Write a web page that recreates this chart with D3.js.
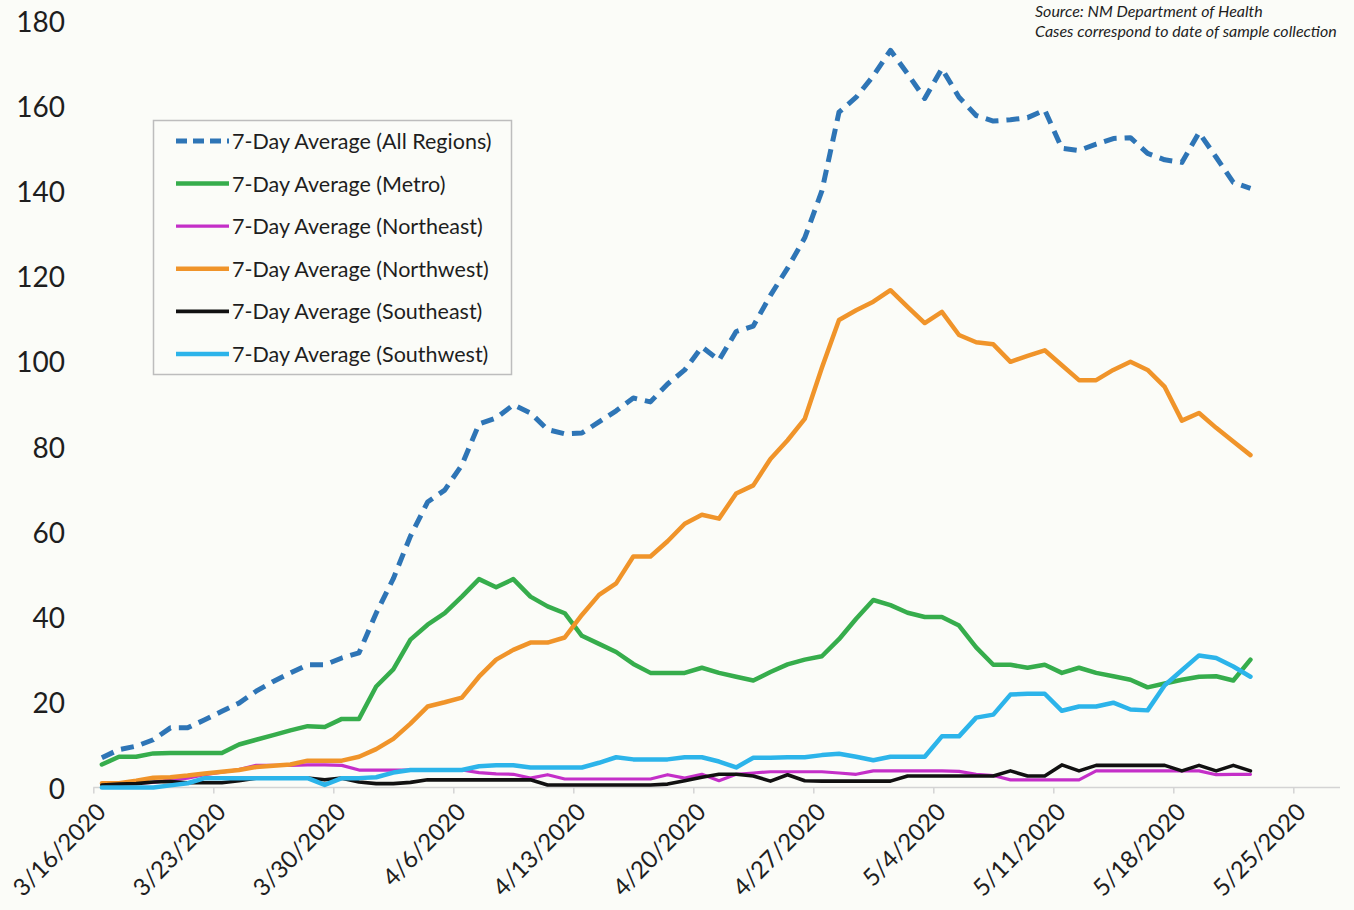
<!DOCTYPE html>
<html>
<head>
<meta charset="utf-8">
<script src="https://cdn.jsdelivr.net/npm/d3@7"></script>
<style>
  html, body { margin: 0; padding: 0; background: #fbfcf8; }
  svg { display: block; }
  text { font-family: Lato, "Open Sans", sans-serif; fill: #1e1e1e; }
</style>
</head>
<body>
<svg id="chart" width="1354" height="910"></svg>
<script>
// ---------- data ----------
const dates = [
  "2020-03-16","2020-03-17","2020-03-18","2020-03-19","2020-03-20","2020-03-21","2020-03-22",
  "2020-03-23","2020-03-24","2020-03-25","2020-03-26","2020-03-27","2020-03-28","2020-03-29",
  "2020-03-30","2020-03-31","2020-04-01","2020-04-02","2020-04-03","2020-04-04","2020-04-05",
  "2020-04-06","2020-04-07","2020-04-08","2020-04-09","2020-04-10","2020-04-11","2020-04-12",
  "2020-04-13","2020-04-14","2020-04-15","2020-04-16","2020-04-17","2020-04-18","2020-04-19",
  "2020-04-20","2020-04-21","2020-04-22","2020-04-23","2020-04-24","2020-04-25","2020-04-26",
  "2020-04-27","2020-04-28","2020-04-29","2020-04-30","2020-05-01","2020-05-02","2020-05-03",
  "2020-05-04","2020-05-05","2020-05-06","2020-05-07","2020-05-08","2020-05-09","2020-05-10",
  "2020-05-11","2020-05-12","2020-05-13","2020-05-14","2020-05-15","2020-05-16","2020-05-17",
  "2020-05-18","2020-05-19","2020-05-20","2020-05-21","2020-05-22"
];
const allRegions = [7,8.9,9.7,11.2,14,14,15.9,17.9,19.8,22.6,24.9,26.9,28.8,28.8,30.4,31.6,40.9,49,59,67,69.8,75.7,85.3,86.7,89.8,87.9,84,83,83.2,85.8,88.4,91.4,90.5,94.7,98,103.4,100.3,107,108.3,115.5,121.9,129,140,158.5,162,167,173,167.5,161.7,168.7,162,157.7,156.4,156.7,157.2,159,150,149.5,151,152.3,152.5,148.8,147.3,146.7,153.7,147.9,142,140.6];
const metro = [5.4,7.2,7.2,8,8.1,8.1,8.1,8.1,10.1,11.2,12.3,13.4,14.4,14.2,16.1,16.1,23.7,27.7,34.7,38.2,40.9,44.8,48.9,47,48.9,44.8,42.5,40.9,35.6,33.7,31.8,29,26.9,26.9,26.9,28.1,26.9,26,25.1,27.1,28.9,30,30.8,34.8,39.6,44,42.8,41,40,40,38,32.9,28.8,28.8,28.1,28.8,26.9,28.1,26.9,26.1,25.3,23.5,24.4,25.3,26,26.1,25.1,30];
const northeast = [1,1,1,1.2,1.8,2.2,3,3.6,4.2,5.2,5.2,5.2,5.3,5.3,5.2,4.1,4.1,4.1,4.1,4.1,4.1,4.1,3.5,3.2,3.1,2.2,3,2,2,2,2,2,2,3,2.2,3.1,1.6,3.1,3.4,3.7,3.7,3.7,3.7,3.4,3.1,3.9,3.9,3.9,3.9,3.9,3.8,3.1,2.8,1.8,1.8,1.8,1.8,1.8,3.9,3.9,3.9,3.9,3.9,3.9,3.9,3,3.1,3.1];
const northwest = [1,1,1.6,2.3,2.4,2.8,3.3,3.7,4.1,4.8,5.1,5.4,6.3,6.3,6.3,7.2,9,11.4,15,19,20,21.1,26,30,32.3,34,34,35.2,40.5,45.2,47.9,54.2,54.2,57.8,61.9,64,63.1,69,70.9,77.1,81.5,86.5,98.5,109.7,112,114,116.7,112.8,109,111.6,106.2,104.5,104,99.9,101.3,102.6,99.1,95.6,95.6,98,99.9,98,94,86.1,87.9,84.4,81.2,78];
const southeast = [0.6,0.8,0.9,1.3,1.4,1.1,1.1,1.1,1.6,2.2,2.2,2.2,2.2,1.8,2.2,1.3,0.9,0.9,1.2,1.8,1.8,1.8,1.8,1.8,1.8,1.8,0.6,0.6,0.6,0.6,0.6,0.6,0.6,0.8,1.6,2.4,3.1,3.1,2.7,1.5,3,1.6,1.5,1.5,1.5,1.5,1.5,2.7,2.7,2.7,2.7,2.7,2.7,3.9,2.7,2.7,5.3,3.9,5.2,5.2,5.2,5.2,5.2,3.9,5.2,3.9,5.2,3.9];
const southwest = [0,0,0,0,0.5,1,2.2,2.2,2.2,2.2,2.2,2.2,2.2,0.6,2.2,2.2,2.4,3.5,4.1,4.1,4.1,4.1,5,5.2,5.2,4.7,4.7,4.7,4.7,5.8,7.1,6.6,6.6,6.6,7.1,7.1,6.1,4.7,7,7,7.1,7.1,7.6,7.9,7.2,6.4,7.2,7.2,7.2,12,12,16.4,17.1,21.8,22,22,18,19,19,19.9,18.3,18.1,24,27.5,31,30.4,28.4,26];

const seriesNames = [
  "7-Day Average (All Regions)",
  "7-Day Average (Metro)",
  "7-Day Average (Northeast)",
  "7-Day Average (Northwest)",
  "7-Day Average (Southeast)",
  "7-Day Average (Southwest)"
];
const yTicks = [0,20,40,60,80,100,120,140,160,180];
const xTickLabels = ["3/16/2020","3/23/2020","3/30/2020","4/6/2020","4/13/2020","4/20/2020","4/27/2020","5/4/2020","5/11/2020","5/18/2020","5/25/2020"];
const sourceLines = ["Source: NM Department of Health","Cases correspond to date of sample collection"];

// ---------- styles ----------
const styles = [
  {color:"#2e75b6", width:5, dash:"13,8"},
  {color:"#36ad4c", width:4.5, dash:null},
  {color:"#c42fc8", width:3.2, dash:null},
  {color:"#f0942a", width:4.5, dash:null},
  {color:"#111111", width:3.6, dash:null},
  {color:"#2cb4ea", width:4.5, dash:null}
];
const seriesValues = [allRegions, metro, northeast, northwest, southeast, southwest];

// ---------- chart ----------
const svg = d3.select("#chart");
svg.append("rect").attr("width",1354).attr("height",910).attr("fill","#fbfcf8");

const parse = d3.utcParse("%Y-%m-%d");
const parseTick = d3.utcParse("%m/%d/%Y");
const dayDates = dates.map(parse);
const tickDates = xTickLabels.map(parseTick);

const x = d3.scaleUtc()
  .domain([parse("2020-03-16"), parse("2020-05-25")])
  .range([93.3, 1293.3]);
const y = d3.scaleLinear().domain([0,180]).range([787.5, 20.5]);

const halfDay = 12*3600*1000;
const px = d => x(new Date(d.getTime() + halfDay));

// axis baseline
svg.append("line")
  .attr("x1", x.range()[0]).attr("x2", 1340)
  .attr("y1", y(0)).attr("y2", y(0))
  .attr("stroke", "#d4d4d4").attr("stroke-width", 1.5);

// x axis ticks
const xAxis = d3.axisBottom(x).tickValues(tickDates).tickSize(6).tickFormat("");
const gx = svg.append("g").attr("transform", `translate(0,${y(0)})`).call(xAxis);
gx.select(".domain").remove();
gx.selectAll(".tick line").attr("stroke","#d4d4d4").attr("stroke-width",1.5);

// x labels rotated
svg.append("g").selectAll("text").data(tickDates).join("text")
  .attr("transform", (d,i) => `translate(${x(d)+8},${y(0)+20}) rotate(-45)`)
  .attr("text-anchor","end")
  .attr("dy","0.35em")
  .attr("font-size", 24)
  .text((d,i) => xTickLabels[i]);

// y labels
svg.append("g").selectAll("text").data(yTicks).join("text")
  .attr("x", 65).attr("y", d => y(d))
  .attr("text-anchor","end")
  .attr("dominant-baseline","central")
  .attr("font-size", 28)
  .text(d => d);

// lines
const line = d3.line()
  .x((v,i) => px(dayDates[i]))
  .y(v => y(v))
  .curve(d3.curveLinear);

svg.append("g").selectAll("path").data(seriesValues).join("path")
  .attr("d", d => line(d))
  .attr("fill","none")
  .attr("stroke", (d,i) => styles[i].color)
  .attr("stroke-width", (d,i) => styles[i].width)
  .attr("stroke-dasharray", (d,i) => styles[i].dash)
  .attr("stroke-linejoin","round")
  .attr("stroke-linecap", (d,i) => styles[i].dash ? "butt" : "round");

// legend
const lg = svg.append("g");
lg.append("rect").attr("x",153.5).attr("y",120.5).attr("width",358).attr("height",254)
  .attr("fill","#fbfcf8").attr("stroke","#bdbdbd").attr("stroke-width",1.5);
const rows = lg.selectAll("g.row").data(seriesNames).join("g")
  .attr("transform",(d,i)=>`translate(0,${141 + i*42.6})`);
rows.append("line").attr("x1",176).attr("x2",229).attr("y1",0).attr("y2",0)
  .attr("stroke",(d,i)=>styles[i].color)
  .attr("stroke-width",(d,i)=>styles[i].width)
  .attr("stroke-dasharray",(d,i)=>styles[i].dash ? "11,6" : null);
rows.append("text").attr("x",232).attr("y",0).attr("dominant-baseline","central")
  .attr("font-size",21.5).text(d=>d);

// source note
svg.append("g").selectAll("text").data(sourceLines).join("text")
  .attr("x",1035).attr("y",(d,i)=>10 + i*20)
  .attr("dominant-baseline","central")
  .attr("font-size",16).attr("font-style","italic").attr("fill","#333")
  .text(d=>d);
</script>
</body>
</html>
